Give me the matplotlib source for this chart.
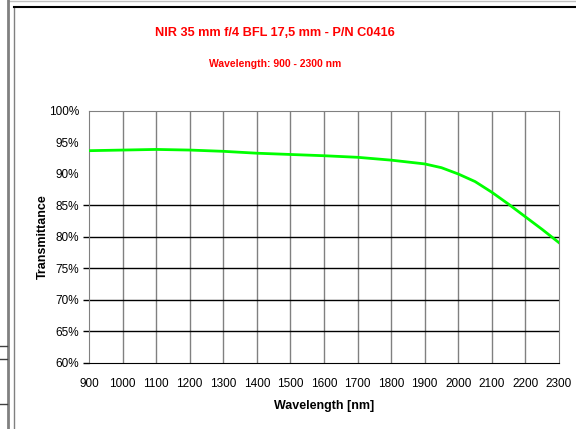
import matplotlib
matplotlib.use('Agg')
import matplotlib.pyplot as plt
from matplotlib.lines import Line2D
from matplotlib.ticker import FuncFormatter

plt.rcParams['font.family'] = ['Liberation Sans', 'DejaVu Sans']

# Transmittance curve
wavelength = [900, 1000, 1100, 1200, 1300, 1400, 1500, 1600, 1700, 1800,
              1900, 1950, 2000, 2050, 2100, 2150, 2200, 2250, 2300]
transmittance = [93.7, 93.8, 93.9, 93.8, 93.6, 93.3, 93.1, 92.9, 92.65, 92.2,
                 91.6, 91.0, 90.0, 88.8, 87.1, 85.2, 83.2, 81.2, 79.1]

x_ticks = list(range(900, 2301, 100))
y_ticks = list(range(60, 101, 5))
y_grid = [60, 65, 70, 75, 80, 85]

title = 'NIR 35 mm f/4 BFL 17,5 mm - P/N C0416'
subtitle = 'Wavelength: 900 - 2300 nm'

fig = plt.figure(figsize=(5.76, 4.29), dpi=100)
ax = fig.add_axes([89/576, 1 - 363/429, (559 - 89)/576, (363 - 111)/429])

# vertical grid (gray) and the lower horizontal grid (black)
for xv in x_ticks[1:-1]:
    ax.axvline(xv, color='#808080', lw=1.0, zorder=1)
for yv in y_grid[1:]:
    ax.axhline(yv, color='black', lw=1.0, zorder=1)

ax.plot(wavelength, transmittance, color='#00ff00', lw=2.0, zorder=3)

ax.set_xlim(900, 2300)
ax.set_ylim(60, 100)
ax.set_xticks(x_ticks)
ax.set_yticks(y_ticks)
ax.yaxis.set_major_formatter(FuncFormatter(lambda v, p: f'{int(v)}%'))
ax.tick_params(axis='x', length=0, pad=11, labelsize=8.5)
ax.tick_params(axis='y', length=4, width=1, pad=3, labelsize=8.5)
# no tick marks above 85%
for tick, v in zip(ax.yaxis.get_major_ticks(), y_ticks):
    if v > 85:
        tick.tick1line.set_visible(False)

for s in ['top', 'right', 'left']:
    ax.spines[s].set_color('#808080')
ax.spines['bottom'].set_color('black')

ax.set_xlabel('Wavelength [nm]', fontsize=9, fontweight='bold', labelpad=7)
ax.set_ylabel('Transmittance', fontsize=9, fontweight='bold', labelpad=0)

fig.text(275/576, 1 - 33/429, title, color='#ff0000', fontsize=9.2,
         fontweight='bold', ha='center', va='center')
fig.text(275/576, 1 - 64/429, subtitle, color='#ff0000', fontsize=7.5,
         fontweight='bold', ha='center', va='center')

# surrounding window frame from the screenshot
fig.add_artist(Line2D([8/576, 1], [1 - 1/429] * 2, color='#c0c0c0', lw=1))
fig.add_artist(Line2D([7.5/576] * 2, [0, 1], color='#808080', lw=2))
fig.add_artist(Line2D([14/576] * 2, [0, 1 - 7/429], color='#808080', lw=1))
fig.add_artist(Line2D([14/576, 1], [1 - 7/429] * 2, color='black', lw=1.5))
for yy in [346, 359, 404]:
    fig.add_artist(Line2D([0, 7/576], [1 - yy/429] * 2, color='#404040', lw=1))

fig.savefig('out.png', dpi=100)
